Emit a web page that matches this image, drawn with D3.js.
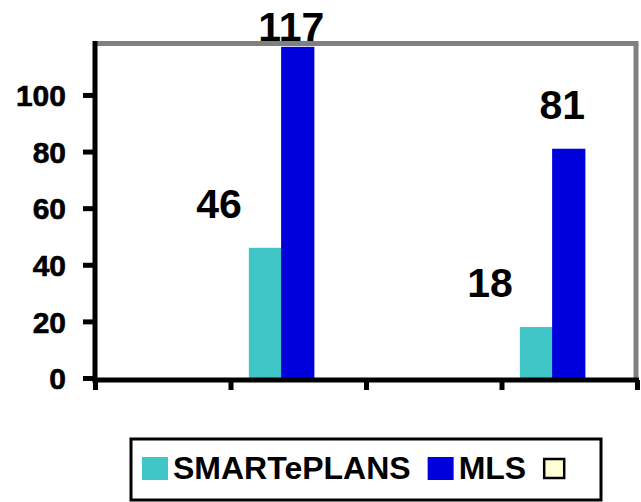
<!DOCTYPE html>
<html>
<head>
<meta charset="utf-8">
<script src="https://cdn.jsdelivr.net/npm/d3@7"></script>
<style>
  body { margin: 0; background: #fff; }
  svg { display: block; }
  text { font-family: "Liberation Sans", Arial, sans-serif; font-weight: bold; }
</style>
</head>
<body>
<script>
// chart data
const categories = ["1", "2", "3", "4"];
const seriesNames = ["SMARTePLANS", "MLS", ""];
const smartePlans = [null, 46, null, 18];
const mls = [null, 117, null, 81];
const third = [null, null, null, null];
const yTicks = [0, 20, 40, 60, 80, 100];
const colors = ["#40c6c6", "#0000dd", "#ffffd6"];

const allSeries = [smartePlans, mls, third];

const width = 641, height = 502;
const plotLeft = 95, plotRight = 637, plotTop = 44, plotBottom = 378;

const svg = d3.select("body").append("svg")
  .attr("width", width)
  .attr("height", height);

// scales
const x = d3.scaleBand().domain(categories).range([plotLeft, plotRight]);
const xEdge = d3.scaleLinear().domain([0, categories.length]).range([plotLeft, plotRight]);
const inner = d3.scaleBand().domain(d3.range(seriesNames.length))
  .range([0, x.bandwidth()]).paddingOuter(0.6);
const y = d3.scaleLinear().domain([0, 118]).range([plotBottom, plotTop]);

// gray frame on top and right
svg.append("line")
  .attr("x1", plotLeft).attr("x2", plotRight + 1)
  .attr("y1", 43.5).attr("y2", 43.5)
  .attr("stroke", "#808080").attr("stroke-width", 5);
svg.append("line")
  .attr("x1", plotRight - 1).attr("x2", plotRight - 1)
  .attr("y1", 41).attr("y2", 380)
  .attr("stroke", "#808080").attr("stroke-width", 5);

// bars
const bars = [];
allSeries.forEach(function (vals, s) {
  vals.forEach(function (v, c) {
    if (v !== null) bars.push({ s: s, c: categories[c], v: v });
  });
});

svg.selectAll("rect.bar")
  .data(bars)
  .enter()
  .append("rect")
  .attr("class", "bar")
  .attr("x", function (d) { return x(d.c) + inner(d.s) - 1; })
  .attr("width", inner.bandwidth() + 1)
  .attr("y", function (d) { return y(d.v); })
  .attr("height", function (d) { return y(0) - y(d.v); })
  .attr("fill", function (d) { return colors[d.s]; });

// value labels, teal ones sit up and to the left
const labelDx = [-47, -7, 0];
svg.selectAll("text.val")
  .data(bars)
  .enter()
  .append("text")
  .attr("class", "val")
  .attr("x", function (d) { return x(d.c) + inner(d.s) + inner.bandwidth() / 2 + labelDx[d.s]; })
  .attr("y", function (d) { return Math.max(y(d.v) - 30, 41); })
  .attr("text-anchor", "middle")
  .style("font-size", "41px")
  .attr("fill", "#000")
  .text(function (d) { return d.v; });

// y axis
const yAxis = d3.axisLeft(y)
  .tickValues(yTicks)
  .tickSize(12)
  .tickSizeOuter(0)
  .tickPadding(17);

const gy = svg.append("g")
  .attr("transform", "translate(" + plotLeft + ",0)")
  .call(yAxis);
gy.select(".domain").attr("stroke", "#000").attr("stroke-width", 5)
  .attr("d", "M0," + 41 + "V" + 383);
gy.selectAll(".tick line").attr("stroke", "#000").attr("stroke-width", 5);
gy.selectAll(".tick text")
  .style("font-size", "30px")
  .attr("dy", "0.36em")
  .attr("fill", "#000")
  .attr("stroke", "#000")
  .attr("stroke-width", 0.6);

// x axis, ticks on category edges, no labels
const xAxis = d3.axisBottom(xEdge)
  .ticks(categories.length)
  .tickFormat("")
  .tickSize(10)
  .tickSizeOuter(0);

const gx = svg.append("g")
  .attr("transform", "translate(0,380)")
  .call(xAxis);
gx.select(".domain").attr("stroke", "#000").attr("stroke-width", 5)
  .attr("d", "M" + (plotLeft - 2) + ",0H" + (plotRight + 2));
gx.selectAll(".tick line").attr("stroke", "#000").attr("stroke-width", 5);

// legend
const legend = svg.append("g");
legend.append("rect")
  .attr("x", 131).attr("y", 439)
  .attr("width", 470).attr("height", 61)
  .attr("fill", "#fff")
  .attr("stroke", "#000").attr("stroke-width", 3);

let lx = 142;
seriesNames.forEach(function (name, i) {
  const g = legend.append("g");
  const empty = name === "";
  g.append("rect")
    .attr("x", empty ? lx + 1 : lx).attr("y", empty ? 459 : 457)
    .attr("width", empty ? 20 : 26).attr("height", empty ? 19 : 23)
    .attr("fill", colors[i])
    .attr("stroke", empty ? "#000" : "none")
    .attr("stroke-width", 2.5);
  if (!empty) {
    const t = g.append("text")
      .attr("x", lx + 31).attr("y", 479)
      .style("font-size", "32px")
      .attr("fill", "#000")
      .text(name);
    lx = lx + 31 + t.node().getComputedTextLength() + 17;
  }
});
</script>
</body>
</html>
